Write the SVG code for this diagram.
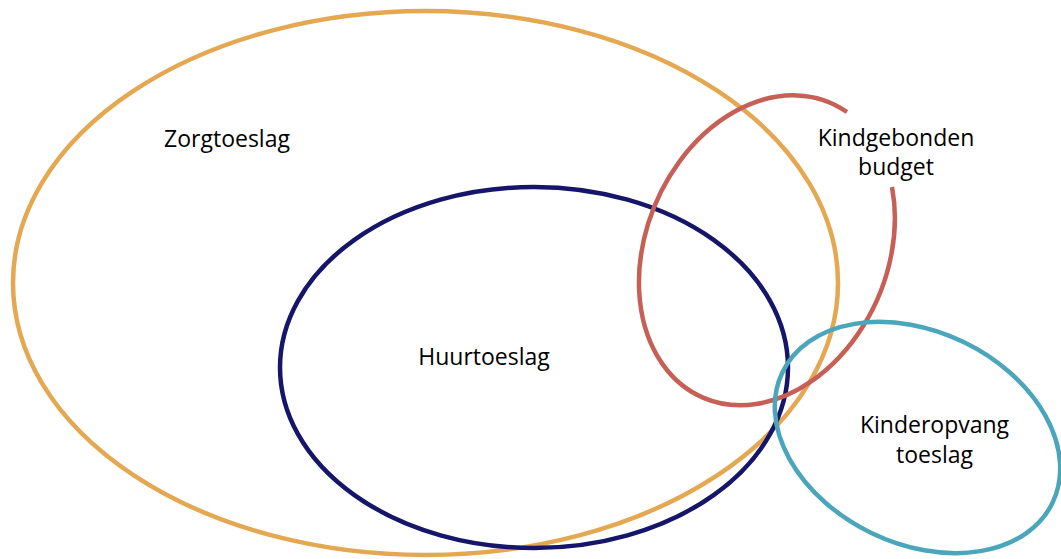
<svg xmlns="http://www.w3.org/2000/svg" width="1061" height="559" viewBox="0 0 1061 559">
<style>
.set{fill:none;stroke-width:4.5}
.lbl{font-family:"Open Sans","Noto Sans","Liberation Sans",sans-serif;font-size:23px;fill:#000;text-anchor:middle}
</style>
<rect width="1061" height="559" fill="#fff"/>
<g id="zorgtoeslag">
<ellipse class="set" cx="425.5" cy="283" rx="412.5" ry="272" stroke="#E5A852"/>
<text class="lbl" x="227" y="147">Zorgtoeslag</text>
</g>
<g id="huurtoeslag">
<ellipse class="set" cx="534" cy="367.5" rx="254" ry="180.5" stroke="#15166A"/>
<text class="lbl" x="484" y="365">Huurtoeslag</text>
</g>
<g id="kindgebonden-budget">
<path class="set" d="M892,187 A120.8,160.6 23.5 1 1 847,112" stroke="#C65F55"/>
<text class="lbl" x="896" y="146">Kindgebonden</text>
<text class="lbl" x="896" y="175">budget</text>
</g>
<g id="kinderopvangtoeslag">
<ellipse class="set" cx="917.5" cy="437.5" rx="150" ry="106" transform="rotate(25.8 917.5 437.5)" stroke="#4BA6BC"/>
<text class="lbl" x="934.5" y="433">Kinderopvang</text>
<text class="lbl" x="934.5" y="463">toeslag</text>
</g>
<g id="connectors"></g>
</svg>
